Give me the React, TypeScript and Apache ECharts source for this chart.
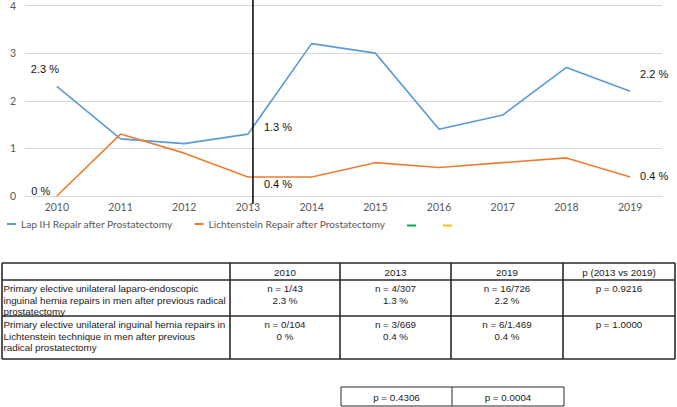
import React, { useEffect, useRef } from "react";
import * as echarts from "echarts";

const years = ["2010", "2011", "2012", "2013", "2014", "2015", "2016", "2017", "2018", "2019"];
const lapRates = [2.3, 1.2, 1.1, 1.3, 3.2, 3.0, 1.4, 1.7, 2.7, 2.2];
const lichRates = [0, 1.3, 0.9, 0.4, 0.4, 0.7, 0.6, 0.7, 0.8, 0.4];
const seriesNames = ["Lap IH Repair after Prostatectomy", "Lichtenstein Repair after Prostatectomy"];
const annotatedYears = ["2010", "2013", "2019"];
const markerYear = "2013";

const tableHeader = ["", "2010", "2013", "2019", "p (2013 vs 2019)"];
const rowLabels = [
  "Primary elective unilateral laparo-endoscopic\ninguinal hernia repairs in men after previous radical\nprostatectomy",
  "Primary elective unilateral inguinal hernia repairs in\nLichtenstein technique in men after previous\nradical prostatectomy",
];
const lapCells = ["n = 1/43\n2.3 %", "n = 4/307\n1.3 %", "n = 16/726\n2.2 %", "p = 0.9216"];
const lichCells = ["n = 0/104\n0 %", "n = 3/669\n0.4 %", "n = 6/1.469\n0.4 %", "p = 1.0000"];
const bottomP = ["p = 0.4306", "p = 0.0004"];

// layout (styles / positions)
const labelOffsets = [
  [[-12, -17], [30, -7], [24, -17]],
  [[-16, -5], [30, 7], [24, -1]],
];
const colors = ["#5B9BD5", "#ED7D31"];
const extraLegendColors = ["#00B050", "#FFC000"];
const extraLegendX = [407, 443];
const colX = [2, 230, 340, 451, 563, 675];
const rowY = [263, 280, 316, 359];
const botX = [341, 452, 564];
const botY = [387, 406];
const TFONT = "Liberation Sans, Arial, sans-serif";
const AFONT = "Lato, sans-serif";

function buildSeriesData(values: number[], si: number) {
  return values.map((v, i) => {
    const k = annotatedYears.indexOf(years[i]);
    if (k < 0) return v;
    return {
      value: v,
      label: {
        show: true,
        position: "inside",
        offset: labelOffsets[si][k],
        formatter: (p: any) => `${p.value} %`,
        color: "#111",
        fontSize: 11,
        fontFamily: TFONT,
      },
    };
  });
}

function buildTable(): any[] {
  const els: any[] = [];
  const line = (x1: number, y1: number, x2: number, y2: number, w = 1.6) =>
    els.push({ type: "line", shape: { x1, y1, x2, y2 }, style: { stroke: "#2a2a2a", lineWidth: w }, silent: true });
  rowY.forEach((y) => line(colX[0], y, colX[colX.length - 1], y));
  colX.forEach((x) => line(x, rowY[0], x, rowY[rowY.length - 1]));
  const text = (t: string, x: number, y: number, align: string) =>
    els.push({
      type: "text",
      x,
      y,
      style: { text: t, fill: "#1a1a1a", font: `9.8px ${TFONT}`, align, verticalAlign: "top", lineHeight: 11.5 },
      silent: true,
    });
  tableHeader.forEach((h, c) => {
    if (h) text(h, (colX[c] + colX[c + 1]) / 2, rowY[0] + 4, "center");
  });
  [lapCells, lichCells].forEach((cells, r) => {
    text(rowLabels[r], colX[0] + 1.5, rowY[r + 1] + 3, "left");
    cells.forEach((cv, c) => text(cv, (colX[c + 1] + colX[c + 2]) / 2, rowY[r + 1] + 3, "center"));
  });
  botY.forEach((y) => line(botX[0], y, botX[botX.length - 1], y, 1));
  botX.forEach((x) => line(x, botY[0], x, botY[1], 1));
  bottomP.forEach((p, i) => text(p, (botX[i] + botX[i + 1]) / 2, botY[0] + 4.5, "center"));
  // extra legend markers (unnamed series)
  extraLegendColors.forEach((c, i) =>
    els.push({
      type: "rect",
      shape: { x: extraLegendX[i], y: 224.5, width: 9, height: 2 },
      style: { fill: c },
      silent: true,
    })
  );
  return els;
}

export default function App() {
  const ref = useRef<HTMLDivElement>(null);
  useEffect(() => {
    const chart = echarts.init(ref.current!, null, { renderer: "svg" });
    chart.setOption({
      animation: false,
      grid: { left: 25, right: 15, top: 2, bottom: 211 },
      legend: {
        left: 7,
        top: 219,
        padding: 0,
        itemWidth: 9,
        itemHeight: 2,
        itemGap: 22,
        icon: "rect",
        textStyle: { color: "#595959", fontSize: 10.2, fontFamily: AFONT },
        data: seriesNames,
      },
      xAxis: {
        type: "category",
        data: years,
        boundaryGap: true,
        axisLine: { lineStyle: { color: "#d9d9d9" } },
        axisTick: { show: false },
        axisLabel: { color: "#595959", fontSize: 10.5, fontFamily: AFONT, margin: 5 },
      },
      yAxis: {
        type: "value",
        min: 0,
        max: 4,
        interval: 1,
        axisLine: { show: false },
        axisTick: { show: false },
        splitLine: { lineStyle: { color: "#d9d9d9" } },
        axisLabel: { color: "#595959", fontSize: 10.5, fontFamily: AFONT, margin: 9 },
      },
      series: [lapRates, lichRates].map((vals, si) => ({
        name: seriesNames[si],
        type: "line",
        data: buildSeriesData(vals, si),
        symbol: "circle",
        symbolSize: 0,
        showSymbol: true,
        itemStyle: { color: colors[si] },
        lineStyle: { color: colors[si], width: 1.6 },
        label: { show: false },
      })),
      graphic: buildTable(),
    });
    const mx = chart.convertToPixel({ xAxisIndex: 0 }, markerYear) as number;
    chart.setOption({
      graphic: [
        ...buildTable(),
        {
          type: "line",
          shape: { x1: mx + 5, y1: 0, x2: mx + 5, y2: 204 },
          style: { stroke: "#000", lineWidth: 1.5 },
          silent: true,
          z: 100,
        },
      ],
    }, { replaceMerge: ["graphic"] });
    return () => chart.dispose();
  }, []);
  return <div ref={ref} style={{ position: "fixed", left: 0, top: 0, width: 677, height: 407, background: "#fff" }} />;
}
